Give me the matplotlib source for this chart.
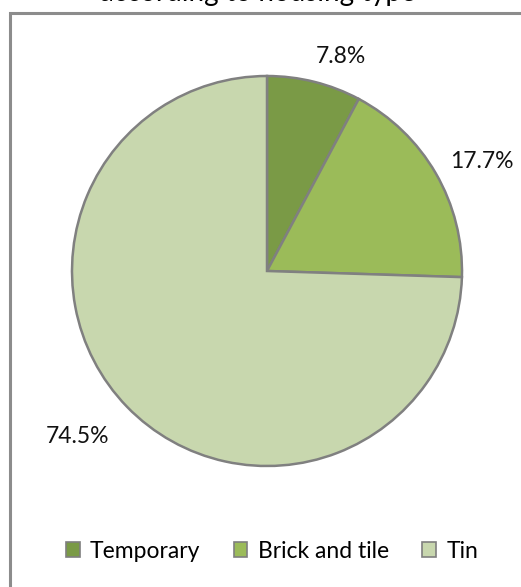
import matplotlib
matplotlib.use("Agg")
import matplotlib.pyplot as plt
from matplotlib.patches import Rectangle, Patch

categories = ["Temporary", "Brick and tile", "Tin"]
shares = [7.8, 17.7, 74.5]
colors = ["#7a9a46", "#9bbb59", "#c8d7ae"]
label_pos = [(0.38, 1.10), (1.10, 0.56), (-0.97, -0.85)]

W, H = 521, 587
fig = plt.figure(figsize=(W / 100, H / 100), dpi=100)
fig.patch.set_facecolor("white")

plt.rcParams["font.family"] = ["Lato", "DejaVu Sans"]

# chart frame
fig.add_artist(Rectangle((10 / W, -0.05), 0.99, 1 - 13 / H + 0.05,
                         transform=fig.transFigure, fill=False,
                         edgecolor="#8c8c8c", linewidth=2.2))

# title (second line, mostly above the top edge)
fig.text(258 / W, 1 - 0.5 / H, "according to housing type", ha="center",
         va="baseline", fontsize=20, color="#000000")

cx, cy, r = 267, 587 - 271, 195
ax = fig.add_axes([(cx - r) / W, (cy - r) / H, 2 * r / W, 2 * r / H])
ax.pie(shares, colors=colors, startangle=90, counterclock=False, radius=1,
       wedgeprops=dict(edgecolor="#808080", linewidth=1.8))
ax.set_xlim(-1, 1)
ax.set_ylim(-1, 1)
ax.set_aspect("equal")
ax.axis("off")

for v, (x, y) in zip(shares, label_pos):
    ax.text(x, y, f"{v}%", ha="center", va="center", fontsize=16.5,
            color="#111111", clip_on=False)

handles = [Patch(facecolor=c, edgecolor="#7f7f7f", linewidth=1.2) for c in colors]
fig.legend(handles, categories, loc="center", bbox_to_anchor=(272 / W, 1 - 551 / H),
           ncol=3, frameon=False, fontsize=16.5, handlelength=0.6, handleheight=0.6,
           handletextpad=0.45, columnspacing=1.45)

fig.savefig("out.png", dpi=100, facecolor="white")
